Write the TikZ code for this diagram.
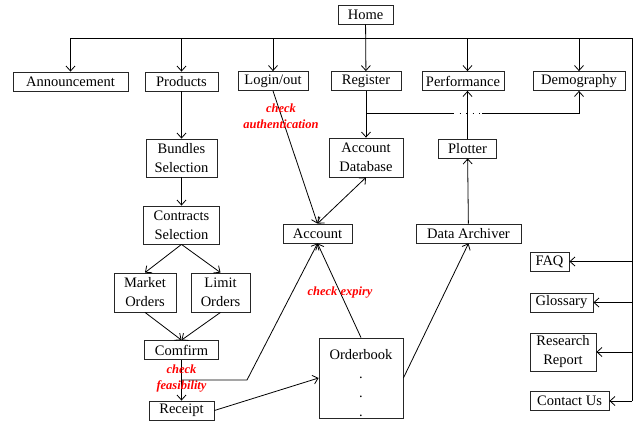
\documentclass[tikz,border=0pt]{standalone}
\usepackage{fontspec}
\setmainfont{Liberation Serif}
\usetikzlibrary{arrows.meta,calc}
\tikzset{
  box/.style={draw=black!85, inner sep=1pt, align=center, minimum height=19pt,
    font=\fontsize{14.5}{19}\selectfont},
  note/.style={text=red, align=center, font=\fontsize{12.5}{16}\selectfont\bfseries\itshape},
}
\def\boxnode{\node[box]}
\def\link{\draw[->]}

\begin{document}
\begin{tikzpicture}[x=1pt,y=-1pt,line width=0.8pt,>={Straight Barb[length=5pt,width=9pt]}]
\clip (0,0) rectangle (635,421);

% menu row under the home page
\boxnode[minimum width=55pt] (home) at (365.5,14.5) {Home};
\boxnode[minimum width=115pt] (announce) at (70.5,81.5) {Announcement};
\boxnode[minimum width=73pt] (products) at (181.5,81.5) {Products};
\boxnode[minimum width=70pt] (login) at (273,81) {Login/out};
\boxnode[minimum width=70pt] (register) at (366,81) {Register};
\boxnode[minimum width=82pt] (perf) at (463,81) {Performance};
\boxnode[minimum width=92pt] (demo) at (579,81) {Demography};

% trading column
\boxnode[minimum width=71pt,minimum height=38pt] (bundles) at (181.5,158) {Bundles\\Selection};
\boxnode[minimum width=76pt,minimum height=38pt] (contracts) at (181.5,225) {Contracts\\Selection};
\boxnode[minimum width=62pt,minimum height=39pt] (market) at (145,292.5) {Market\\Orders};
\boxnode[minimum width=59pt,minimum height=39pt] (limit) at (220.5,292.5) {Limit\\Orders};
\boxnode[minimum width=74pt] (comfirm) at (181.5,350) {Comfirm};
\boxnode[minimum width=65pt] (receipt) at (181.5,410.5) {Receipt};

% accounts and data
\boxnode[minimum width=74pt,minimum height=39pt] (accdb) at (366,157.5) {Account\\Database};
\boxnode[minimum width=58pt] (plotter) at (467.5,148.5) {Plotter};
\boxnode[minimum width=69pt] (account) at (317.5,233.5) {Account};
\boxnode[minimum width=105pt] (archiver) at (468.5,233.5) {Data Archiver};
\boxnode[minimum width=84pt,minimum height=80pt] (orderbook) at (361,378) {\rule{0pt}{20pt}Orderbook\\.\\.\\.};

% help pages on the right
\boxnode[minimum width=39pt] (faq) at (549.5,261.5) {FAQ};
\boxnode[minimum width=63pt] (glossary) at (561.5,302.5) {Glossary};
\boxnode[minimum width=66pt,minimum height=38pt] (research) at (563,352) {Research\\Report};
\boxnode[minimum width=79pt] (contact) at (569.5,401) {Contact Us};

% the bus from home
\coordinate (busL) at (announce.north |- 0,38);
\coordinate (busR) at (632,38);
\coordinate (busB) at (632,401);
\draw (busL) -- (busR) -- (busB);
\link (home) -- (register);
\foreach \n in {announce,products,login,demo}
  \link (\n.north |- busL) -- (\n.north);
\link (plotter |- busL) -- (plotter |- perf.north);
\foreach \n in {faq,glossary,research,contact}
  \link (\n.east -| busR) -- (\n.east);

% register to demography, passing the plotter line
\coordinate (regtap) at (register.south |- 0,113);
\coordinate (demotap) at (demo.south |- 0,113);
\draw (regtap) -- (453,113);
\draw[dash pattern=on 1pt off 5.5pt] (453,113) -- (482,113);
\link (482,113) -- (demotap) -- (demo.south);
\link (register) -- (accdb);

% ordering
\link (products) -- (bundles);
\link (bundles) -- (contracts);
\link (contracts.south) -- (market.north);
\link (contracts.south) -- (limit.north);
\link (market.south) -- (comfirm.north);
\link (limit.south) -- (comfirm.north);
\link (comfirm) -- (receipt);
\node[note] (feas) at (181.5,379) {check\\feasibility};
\coordinate (feastap) at (comfirm.south |- 0,380);
\coordinate (kink) at (247,380);
\link (feastap) -- (kink) -- (account.south);
\link (receipt.east) -- (orderbook.west);

% account checks
\link (login.south) -- (account.north);
\node[note] (auth) at (281,116) {check\\authentication};
\draw[<->] (account.north) -- (accdb.south);
\link (orderbook.north) -- (account.south);
\node[note] (expiry) at (340,293) {check expiry};

% data flow
\link (orderbook.east) -- (archiver.south);
\link (archiver) -- (plotter);
\link (plotter) -- (plotter |- perf.south);
\end{tikzpicture}
\end{document}
